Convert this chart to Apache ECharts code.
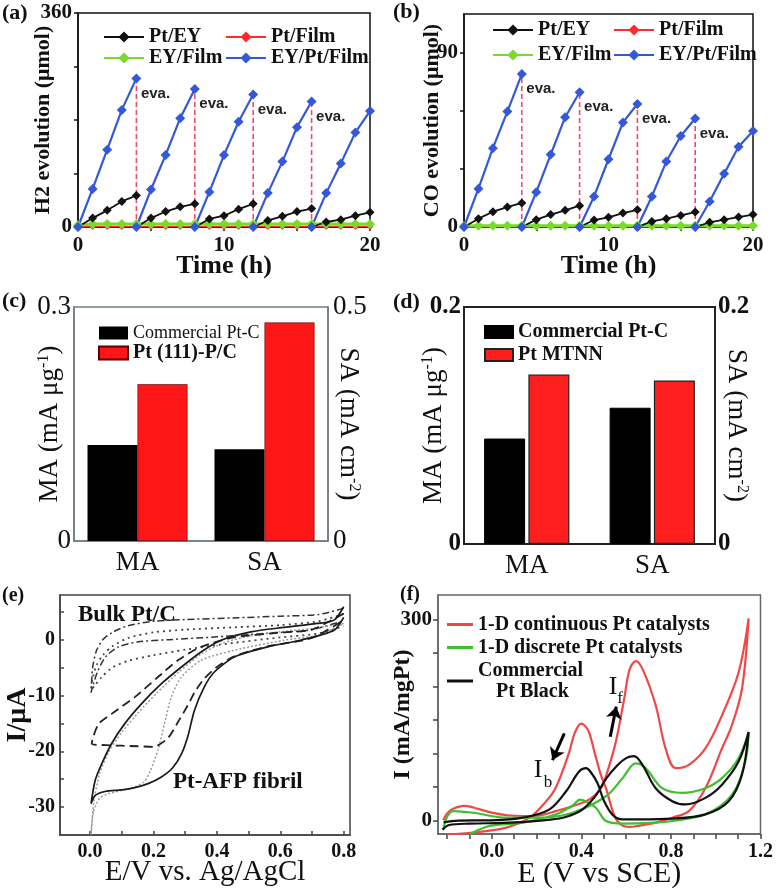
<!DOCTYPE html>
<html><head><meta charset="utf-8">
<script src="https://cdn.jsdelivr.net/npm/echarts@6/dist/echarts.min.js"></script>
<style>html,body{margin:0;padding:0;background:#fff}#c{width:776px;height:890px}</style>
</head><body><div id="c"></div><script>
const SERIF = "'Liberation Serif','Times New Roman',serif";
const SANS = "'Liberation Sans',Arial,sans-serif";

// ---------- (a)/(b) photocatalytic cycles ----------
const cycleStarts = [0, 4, 8, 12, 16];
const cycleHours = [0, 1, 2, 3, 4];
const hourly = [0,1,2,3,4,5,6,7,8,9,10,11,12,13,14,15,16,17,18,19,20];
const h2_EYPtFilm = [[0,64,130,197,250],[0,63,121,183,232],[0,59,121,177,223],[0,57,110,168,211],[0,57,107,159,195]];
const h2_PtEY     = [[0,15,28,43,53],[0,15,26,34,39],[0,13.5,19,30,39],[0,11,18,26,31],[0,8.4,12.3,19,24.7]];
const h2_PtFilm   = [0,1,1,1,1,1,1,1,1,1,1,1,1,1,1,1,1,1,1,1,1];
const h2_EYFilm   = [3,5,5,5,5,5,5,5,5,5,5,5,5,5,5,5,5,5,5,5,5];
const co_EYPtFilm = [[0,19.8,40.7,59.6,79],[0,18,37.4,56.7,69.6],[0,15.8,35,54,63.5],[0,15.8,33.8,47,56],[0,13.2,27.5,41.4,49.6]];
const co_PtEY     = [[0,4.3,7.9,10.3,12.4],[0,3.8,6.4,8.6,11],[0,3.6,5,7.2,8.9],[0,2.9,4.3,6,7.7],[0,2.4,3.8,5.1,6.4]];
const co_PtFilm   = [0,0.2,0.2,0.2,0.2,0.2,0.2,0.2,0.2,0.2,0.2,0.2,0.2,0.2,0.2,0.2,0.2,0.2,0.2,0.2,0.2];
const co_EYFilm   = [0.5,0.7,0.7,0.7,0.7,0.7,0.7,0.7,0.7,0.7,0.7,0.7,0.7,0.7,0.7,0.7,0.7,0.7,0.7,0.7,0.7];
const abTickLabelsX = [0, 10, 20];
const aTickLabelsY = [0, 360];
const bTickLabelsY = [0, 90];

// ---------- (c)/(d) bars ----------
const barCategories = ['MA', 'SA'];
const cCommercial = [0.123, 0.196];   // MA (left axis), SA (right axis)
const cPt111      = [0.201, 0.467];
const dCommercial = [0.089, 0.115];
const dMTNN       = [0.143, 0.138];

// ---------- (e) CV curves [E, I] ----------
const eFibrilSolid = [[0.8,5.9],[0.77,3.5],[0.716,2.9],[0.612,2.2],[0.507,1.4],[0.413,-0.1],[0.35,-2.2],[0.288,-4.9],[0.225,-7.9],[0.162,-11.5],[0.11,-15],[0.068,-18.6],[0.037,-22.2],[0.016,-25.2],[0.003,-29.4],[0.016,-27.9],[0.047,-27.2],[0.1,-26.9],[0.141,-26.5],[0.183,-25.8],[0.225,-24.6],[0.26,-23],[0.288,-20.5],[0.308,-17.4],[0.329,-12.7],[0.36,-8.5],[0.392,-5.8],[0.455,-3.1],[0.56,-1.3],[0.664,-0.1],[0.77,1.7],[0.8,4]];
const eFibrilDashed = [[0.8,4.7],[0.7,1.8],[0.612,1.3],[0.455,0.4],[0.35,-1.3],[0.277,-3.7],[0.214,-6.7],[0.141,-10.3],[0.068,-13.3],[0.026,-15.2],[0.005,-18.6],[0.05,-18.9],[0.1,-19],[0.15,-19.1],[0.2,-19.2],[0.246,-17.6],[0.28,-14.5],[0.308,-11.8],[0.33,-9.4],[0.36,-7],[0.4,-4.9],[0.455,-3],[0.56,-1.2],[0.7,0.3],[0.8,3.5]];
const eFibrilDotted = [[0.8,2.9],[0.7,2.0],[0.6,1.4],[0.5,0.6],[0.42,-0.6],[0.35,-2.6],[0.28,-5.8],[0.21,-9.6],[0.15,-13.2],[0.1,-16.6],[0.06,-20],[0.03,-24],[0.012,-29],[0.003,-35],[0.01,-31],[0.03,-28.4],[0.058,-27.6],[0.1,-27],[0.141,-26.4],[0.17,-25.5],[0.19,-23.5],[0.214,-19.8],[0.235,-15],[0.256,-10.3],[0.288,-6.7],[0.35,-3.7],[0.455,-1.9],[0.612,-0.1],[0.72,0.8],[0.8,2.9]];
const eBulkDashDot = [[0.8,5.6],[0.72,4.5],[0.6,4.2],[0.45,3.9],[0.3,3.6],[0.2,3.3],[0.12,2.5],[0.07,1.3],[0.04,0],[0.02,-2],[0.008,-5],[0.003,-9.5],[0.01,-8],[0.025,-5.5],[0.05,-3],[0.09,-1.3],[0.15,-0.4],[0.25,0],[0.4,0.5],[0.55,1.1],[0.7,1.8],[0.8,3.4]];
const eBulkDotted = [[0.8,4.6],[0.72,3.3],[0.6,2.6],[0.45,2.2],[0.3,1.8],[0.2,1.3],[0.12,0.3],[0.07,-1.2],[0.04,-2.8],[0.02,-4.6],[0.008,-7],[0.003,-9],[0.015,-8.2],[0.035,-6.8],[0.07,-5],[0.12,-3.8],[0.2,-2.8],[0.3,-1.8],[0.45,-0.6],[0.6,0.4],[0.72,1.1],[0.8,2.4]];
const eTickLabelsX = [0, 0.2, 0.4, 0.6, 0.8];
const eTickLabelsY = [-30, -20, -10, 0];

// ---------- (f) methanol oxidation CV [E, I] ----------
const fRedForward = [[-0.216,0],[-0.2,10],[-0.175,17],[-0.12,21.5],[-0.06,17],[0.0,11.5],[0.07,7.5],[0.139,6.4],[0.213,7.4],[0.287,13.8],[0.361,21.2],[0.44,32],[0.488,48],[0.517,73.5],[0.554,117.5],[0.591,181],[0.615,225],[0.643,238],[0.675,225],[0.732,172],[0.776,107.5],[0.821,78],[0.88,83],[0.954,107.5],[1.028,157],[1.102,221],[1.147,302]];
const fRedBackward = [[1.147,302],[1.117,196],[1.07,140],[1.028,107.5],[0.954,48],[0.88,13.8],[0.806,3.9],[0.732,-3.5],[0.66,-8],[0.613,-9.9],[0.584,-8],[0.55,5],[0.51,48],[0.487,68],[0.458,103],[0.43,135],[0.399,144.6],[0.37,130],[0.347,103],[0.31,68],[0.28,45],[0.243,28.6],[0.169,3.9],[0.065,-10.9],[-0.083,-18.3],[-0.2,-21]];
const fGreenForward = [[-0.215,-12],[-0.2,5],[-0.172,13.8],[-0.083,11.3],[0.065,3.9],[0.213,3.9],[0.361,11.3],[0.51,36],[0.584,63],[0.643,85],[0.687,78],[0.761,48],[0.85,41],[0.954,48],[1.028,63],[1.102,92.8],[1.147,132]];
const fGreenBackward = [[1.147,132],[1.132,87.8],[1.073,38.5],[0.954,8.9],[0.806,-1],[0.732,-3.5],[0.584,-4.9],[0.51,-1],[0.465,18.7],[0.421,28],[0.395,31],[0.36,22],[0.287,8.9],[0.139,-3.5],[-0.009,-8.4],[-0.098,-20.7]];
const fBlackForward = [[-0.22,-14],[-0.19,-7],[-0.1,-5],[0.05,-4],[0.15,-2.5],[0.25,0.5],[0.33,5],[0.4,15],[0.46,35],[0.51,62],[0.56,82],[0.6,93],[0.635,96],[0.673,83],[0.732,48],[0.806,28.6],[0.865,23.7],[0.954,33.5],[1.028,53.3],[1.102,87.8],[1.147,132]];
const fBlackBackward = [[1.147,132],[1.117,68],[1.058,28.6],[0.954,8.9],[0.806,2.5],[0.658,1.5],[0.584,1.5],[0.54,8],[0.5,30],[0.472,55.8],[0.44,73],[0.421,78],[0.39,73],[0.332,43.4],[0.258,16.3],[0.139,3.9],[0,0],[-0.15,-0.5],[-0.215,-3]];
const fArrows = [[[0.529,125],[0.556,170]], [[0.324,130],[0.271,90]]];
const fTickLabelsX = [0, 0.4, 0.8, 1.2];
const fTickLabelsY = [0, 300];

// ---------- helpers ----------
function cyclesToPoints(cycles) {
  const pts = [];
  cycles.forEach((c, i) => {
    if (i > 0) pts.push([cycleStarts[i], null]);
    c.forEach((v, j) => pts.push([cycleStarts[i] + cycleHours[j], v]));
  });
  return pts;
}
function hourlyPoints(vals) { return vals.map((v, i) => [hourly[i], v]); }
function evaPoints(cycles) {
  const pts = [];
  for (let i = 0; i < cycles.length - 1; i++) {
    const t = cycleStarts[i] + cycleHours[cycleHours.length - 1];
    const top = cycles[i][cycles[i].length - 1];
    pts.push([t, 0]);
    pts.push({ value: [t, top], label: { show: true } });
    pts.push([t, null]);
  }
  return pts;
}
function range(a, b, s) { const r = []; for (let v = a; v <= b + 1e-9; v += s) r.push(+v.toFixed(4)); return r; }

const fontB = (size, fam) => ({ fontFamily: fam || SERIF, fontWeight: 'bold', fontSize: size, color: '#111' });
const fontN = (size, fam) => ({ fontFamily: fam || SERIF, fontWeight: 'normal', fontSize: size, color: '#111' });

const colors = { black: '#111111', red: '#ff2b2b', green: '#7ada2c', blue: '#3458d8' };

function abSeries(gi, d) {
  const common = { type: 'line', xAxisIndex: gi, yAxisIndex: gi, symbol: 'diamond', lineStyle: { width: 2 } };
  return [
    { type: 'line', xAxisIndex: gi, yAxisIndex: gi, symbol: 'circle', symbolSize: 1, silent: true, data: evaPoints(d.eyPtFilm),
      itemStyle: { color: '#f04a68' },
      lineStyle: { color: '#f04a68', width: 1.6, type: [5, 3] }, z: 1,
      label: { show: false, formatter: 'eva.', position: 'right', distance: 4, offset: [0, 15], fontFamily: SANS, fontWeight: 'bold', fontSize: 15, color: '#222' } },
    Object.assign({}, common, { name: 'Pt/Film', data: hourlyPoints(d.ptFilm), color: colors.red, symbolSize: 7, lineStyle: { width: 1.5, color: colors.red } }),
    Object.assign({}, common, { name: 'EY/Film', data: hourlyPoints(d.eyFilm), color: colors.green, symbolSize: 10, lineStyle: { width: 3, color: colors.green } }),
    Object.assign({}, common, { name: 'Pt/EY', data: cyclesToPoints(d.ptEY), color: colors.black, symbolSize: 9, lineStyle: { width: 1.8, color: colors.black } }),
    Object.assign({}, common, { name: 'EY/Pt/Film', data: cyclesToPoints(d.eyPtFilm), color: colors.blue, symbolSize: 10, lineStyle: { width: 2.2, color: colors.blue } })
  ];
}

const axisLine = (c, w) => ({ show: true, onZero: false, lineStyle: { color: c, width: w || 1.5 } });
const supRich = { sup: { fontFamily: SERIF, fontSize: 16, verticalAlign: 'top', color: '#111' } };

const option = {
  backgroundColor: '#fff',
  animation: false,
  grid: [
    { left: 78, top: 13, width: 292, height: 214, show: true, borderColor: '#111', borderWidth: 1.5 },
    { left: 464, top: 14, width: 289, height: 213, show: true, borderColor: '#111', borderWidth: 1.5 },
    { left: 74, top: 307, width: 254, height: 234, show: true, borderColor: '#6f7d7d', borderWidth: 1.5 },
    { left: 464, top: 307, width: 251, height: 237, show: true, borderColor: '#222', borderWidth: 2 },
    { left: 60, top: 595, width: 290, height: 240, show: true, borderColor: '#444', borderWidth: 1.5 },
    { left: 438, top: 595, width: 324, height: 241, show: true, borderColor: '#666', borderWidth: 1.5 }
  ],
  xAxis: [
    { gridIndex: 0, type: 'value', min: 0, max: 20, axisLine: axisLine('#111'), splitLine: { show: false },
      axisTick: { customValues: [0,5,10,15,20], length: 4, lineStyle: { color: '#111', width: 1.5 } },
      axisLabel: { customValues: abTickLabelsX, margin: 8, ...fontB(21) },
      name: 'Time (h)', nameLocation: 'middle', nameGap: 26, nameMoveOverlap: false, nameTextStyle: fontB(26) },
    { gridIndex: 1, type: 'value', min: 0, max: 20, axisLine: axisLine('#111'), splitLine: { show: false },
      axisTick: { customValues: [0,5,10,15,20], length: 4, lineStyle: { color: '#111', width: 1.5 } },
      axisLabel: { customValues: abTickLabelsX, margin: 8, ...fontB(21) },
      name: 'Time (h)', nameLocation: 'middle', nameGap: 26, nameMoveOverlap: false, nameTextStyle: fontB(26) },
    { gridIndex: 2, type: 'category', data: barCategories, axisLine: axisLine('#6f7d7d'), axisTick: { show: false },
      axisLabel: { margin: 8, ...fontN(27) } },
    { gridIndex: 2, type: 'category', data: barCategories, show: false },
    { gridIndex: 3, type: 'category', data: barCategories, axisLine: axisLine('#222', 2), axisTick: { show: false },
      axisLabel: { margin: 8, ...fontN(27) } },
    { gridIndex: 3, type: 'category', data: barCategories, show: false },
    { gridIndex: 4, type: 'value', min: -0.095, max: 0.82, axisLine: axisLine('#444'), splitLine: { show: false },
      axisTick: { inside: true, customValues: range(0, 0.8, 0.1), length: 4, lineStyle: { color: '#444', width: 1.5 } },
      axisLabel: { customValues: eTickLabelsX, margin: 7, formatter: v => v.toFixed(1), ...fontB(20) },
      name: 'E/V vs. Ag/AgCl', nameLocation: 'middle', nameGap: 23, nameMoveOverlap: false, nameTextStyle: fontN(29) },
    { gridIndex: 5, type: 'value', min: -0.24, max: 1.2, axisLine: axisLine('#666'), splitLine: { show: false },
      axisTick: { customValues: range(-0.2, 1.2, 0.1), length: 5, lineStyle: { color: '#444', width: 1.5 } },
      axisLabel: { customValues: fTickLabelsX, margin: 8, formatter: v => v.toFixed(1), ...fontB(20) },
      name: 'E (V vs SCE)', nameLocation: 'middle', nameGap: 25, nameMoveOverlap: false, nameTextStyle: fontN(30) }
  ],
  yAxis: [
    { gridIndex: 0, type: 'value', min: 0, max: 360, axisLine: axisLine('#111'), splitLine: { show: false },
      axisTick: { customValues: [0,90,180,270,360], length: 4, lineStyle: { color: '#111', width: 1.5 } },
      axisLabel: { customValues: aTickLabelsY, margin: 6, ...fontB(21) },
      name: 'H2 evolution (μmol)', nameLocation: 'middle', nameGap: 24, nameMoveOverlap: false, nameTextStyle: fontB(22) },
    { gridIndex: 1, type: 'value', min: 0, max: 110, axisLine: axisLine('#111'), splitLine: { show: false },
      axisTick: { customValues: [0,30,60,90], length: 4, lineStyle: { color: '#111', width: 1.5 } },
      axisLabel: { customValues: bTickLabelsY, margin: 6, ...fontB(21) },
      name: 'CO evolution (μmol)', nameLocation: 'middle', nameGap: 21, nameMoveOverlap: false, nameTextStyle: fontB(22) },
    { gridIndex: 2, type: 'value', position: 'left', min: 0, max: 0.3, axisLine: axisLine('#6f7d7d'), splitLine: { show: false },
      axisTick: { inside: true, customValues: range(0, 0.3, 0.05), length: 4, lineStyle: { color: '#555' } },
      axisLabel: { customValues: [0, 0.3], margin: 3, ...fontN(27) },
      name: 'MA (mA μg{sup|-1})', nameLocation: 'middle', nameGap: 11, nameMoveOverlap: false,
      nameTextStyle: Object.assign(fontN(27), { rich: supRich }) },
    { gridIndex: 2, type: 'value', position: 'right', min: 0, max: 0.5, axisLine: axisLine('#6f7d7d'), splitLine: { show: false },
      axisTick: { inside: true, customValues: range(0, 0.5, 0.05), length: 4, lineStyle: { color: '#555' } },
      axisLabel: { customValues: [0, 0.5], margin: 5, ...fontN(27) },
      name: 'SA (mA cm{sup|-2})', nameLocation: 'middle', nameGap: 7, nameRotate: -90, nameMoveOverlap: false,
      nameTextStyle: Object.assign(fontN(27), { rich: supRich }) },
    { gridIndex: 3, type: 'value', position: 'left', min: 0, max: 0.2, axisLine: axisLine('#222', 2), splitLine: { show: false },
      axisTick: { inside: true, customValues: range(0, 0.2, 0.025), length: 4, lineStyle: { color: '#333' } },
      axisLabel: { customValues: [0, 0.2], margin: 3, ...fontB(25) },
      name: 'MA (mA μg{sup|-1})', nameLocation: 'middle', nameGap: 17, nameMoveOverlap: false,
      nameTextStyle: Object.assign(fontN(27), { rich: supRich }) },
    { gridIndex: 3, type: 'value', position: 'right', min: 0, max: 0.2, axisLine: axisLine('#222', 2), splitLine: { show: false },
      axisTick: { inside: true, customValues: range(0, 0.2, 0.025), length: 4, lineStyle: { color: '#333' } },
      axisLabel: { customValues: [0, 0.2], margin: 3, ...fontB(25) },
      name: 'SA (mA cm{sup|-2})', nameLocation: 'middle', nameGap: 8, nameRotate: -90, nameMoveOverlap: false,
      nameTextStyle: Object.assign(fontN(27), { rich: supRich }) },
    { gridIndex: 4, type: 'value', min: -35, max: 8, axisLine: axisLine('#444'), splitLine: { show: false },
      axisTick: { inside: true, customValues: range(-30, 5, 5), length: 4, lineStyle: { color: '#444', width: 1.5 } },
      axisLabel: { customValues: eTickLabelsY, margin: 5, ...fontB(20) },
      name: 'I/μA', nameLocation: 'middle', nameGap: 28, nameMoveOverlap: false, nameTextStyle: fontB(28) },
    { gridIndex: 5, type: 'value', min: -20.5, max: 337, axisLine: axisLine('#666'), splitLine: { show: false },
      axisTick: { customValues: range(0, 300, 50), length: 5, lineStyle: { color: '#444', width: 1.5 } },
      axisLabel: { customValues: fTickLabelsY, margin: 6, ...fontB(21) },
      name: 'I (mA/mgPt)', nameLocation: 'middle', nameGap: 23, nameMoveOverlap: false, nameTextStyle: fontB(24) }
  ],
  legend: [
    { left: 98, top: 22, orient: 'vertical', itemWidth: 40, itemHeight: 14, itemGap: 1, data: ['Pt/EY', 'EY/Film'], textStyle: fontB(20), selectedMode: false },
    { left: 220, top: 22, orient: 'vertical', itemWidth: 40, itemHeight: 14, itemGap: 1, data: ['Pt/Film', 'EY/Pt/Film'], textStyle: fontB(20), selectedMode: false },
    { left: 487, top: 15, orient: 'vertical', itemWidth: 40, itemHeight: 14, itemGap: 5, data: ['Pt/EY', 'EY/Film'], textStyle: fontB(20), selectedMode: false },
    { left: 608, top: 15, orient: 'vertical', itemWidth: 40, itemHeight: 14, itemGap: 5, data: ['Pt/Film', 'EY/Pt/Film'], textStyle: fontB(20), selectedMode: false },
    { left: 93, top: 319, orient: 'vertical', itemWidth: 29, itemHeight: 13, itemGap: 1, icon: 'rect', selectedMode: false,
      data: [{ name: 'Commercial Pt-C', textStyle: fontN(18) }, { name: 'Pt (111)-P/C', textStyle: fontB(20) }] },
    { left: 479, top: 317, orient: 'vertical', itemWidth: 28, itemHeight: 12, itemGap: 3, icon: 'rect', selectedMode: false,
      data: [{ name: 'Commercial Pt-C ', textStyle: fontB(20) }, { name: 'Pt MTNN', textStyle: fontB(20) }] },
    { left: 442, top: 609, orient: 'vertical', itemWidth: 26, itemHeight: 3, itemGap: 2, icon: 'rect', selectedMode: false,
      data: ['1-D continuous Pt catalysts', '1-D discrete Pt catalysts', 'Commercial Pt Black'],
      formatter: n => n === 'Commercial Pt Black' ? '{a|Commercial}\n{b|Pt Black}' : n,
      textStyle: Object.assign(fontB(20), { lineHeight: 21, rich: { a: fontB(20), b: Object.assign(fontB(20), { padding: [0,0,0,18] }) } }) }
  ],
  series: [
    ...abSeries(0, { ptFilm: h2_PtFilm, eyFilm: h2_EYFilm, ptEY: h2_PtEY, eyPtFilm: h2_EYPtFilm }),
    ...abSeries(1, { ptFilm: co_PtFilm, eyFilm: co_EYFilm, ptEY: co_PtEY, eyPtFilm: co_EYPtFilm }),
    // (c)
    { type: 'bar', name: 'Commercial Pt-C', xAxisIndex: 2, yAxisIndex: 2, data: [cCommercial[0], '-'], barWidth: 50, barGap: '0%', itemStyle: { color: '#000' } },
    { type: 'bar', name: 'Pt (111)-P/C', xAxisIndex: 2, yAxisIndex: 2, data: [cPt111[0], '-'], barWidth: 50, barGap: '0%', itemStyle: { color: '#ff1616', borderColor: '#5a0000', borderWidth: 0.6 } },
    { type: 'bar', name: 'Commercial Pt-C', xAxisIndex: 3, yAxisIndex: 3, data: ['-', cCommercial[1]], barWidth: 50, barGap: '0%', itemStyle: { color: '#000' } },
    { type: 'bar', name: 'Pt (111)-P/C', xAxisIndex: 3, yAxisIndex: 3, data: ['-', cPt111[1]], barWidth: 50, barGap: '0%', itemStyle: { color: '#ff1616', borderColor: '#5a0000', borderWidth: 0.6 } },
    // (d)
    { type: 'bar', name: 'Commercial Pt-C ', xAxisIndex: 4, yAxisIndex: 4, data: [dCommercial[0], '-'], barWidth: 41, barGap: '8%', itemStyle: { color: '#000', borderColor: '#000', borderWidth: 1 } },
    { type: 'bar', name: 'Pt MTNN', xAxisIndex: 4, yAxisIndex: 4, data: [dMTNN[0], '-'], barWidth: 41, barGap: '8%', itemStyle: { color: '#ff1f1f', borderColor: '#222', borderWidth: 1.2 } },
    { type: 'bar', name: 'Commercial Pt-C ', xAxisIndex: 5, yAxisIndex: 5, data: ['-', dCommercial[1]], barWidth: 41, barGap: '8%', itemStyle: { color: '#000', borderColor: '#000', borderWidth: 1 } },
    { type: 'bar', name: 'Pt MTNN', xAxisIndex: 5, yAxisIndex: 5, data: ['-', dMTNN[1]], barWidth: 41, barGap: '8%', itemStyle: { color: '#ff1f1f', borderColor: '#222', borderWidth: 1.2 } },
    // (e)
    { type: 'line', xAxisIndex: 6, yAxisIndex: 6, symbol: 'none', smooth: 0.25, data: eBulkDashDot, lineStyle: { color: '#333', width: 1.5, type: [7, 3, 2, 3] } },
    { type: 'line', xAxisIndex: 6, yAxisIndex: 6, symbol: 'none', smooth: 0.25, data: eBulkDotted, lineStyle: { color: '#444', width: 1.8, type: [2, 4] } },
    { type: 'line', xAxisIndex: 6, yAxisIndex: 6, symbol: 'none', smooth: 0.25, data: eFibrilDotted, lineStyle: { color: '#9a9a9a', width: 1.5, type: [2, 2] } },
    { type: 'line', xAxisIndex: 6, yAxisIndex: 6, symbol: 'none', smooth: 0.25, data: eFibrilDashed, lineStyle: { color: '#222', width: 1.8, type: [9, 5] } },
    { type: 'line', xAxisIndex: 6, yAxisIndex: 6, symbol: 'none', smooth: 0.25, data: eFibrilSolid, lineStyle: { color: '#1a1a1a', width: 1.7 } },
    // (f)
    { type: 'line', name: '1-D continuous Pt catalysts', xAxisIndex: 7, yAxisIndex: 7, symbol: 'none', smooth: 0.35,
      data: fRedForward.concat(fRedBackward.slice(1)), color: '#f04848', lineStyle: { width: 2.2, color: '#f04848' },
      markLine: { silent: true, symbol: ['none', 'arrow'], symbolSize: 12, label: { show: false },
        lineStyle: { color: '#000', width: 3, type: 'solid' },
        data: fArrows.map(a => [{ coord: a[0] }, { coord: a[1] }]) } },
    { type: 'line', name: '1-D discrete Pt catalysts', xAxisIndex: 7, yAxisIndex: 7, symbol: 'none', smooth: 0.35,
      data: fGreenForward.concat(fGreenBackward.slice(1)), color: '#3fbf2f', lineStyle: { width: 2.2, color: '#3fbf2f' } },
    { type: 'line', name: 'Commercial Pt Black', xAxisIndex: 7, yAxisIndex: 7, symbol: 'none', smooth: 0.35,
      data: fBlackForward.concat(fBlackBackward.slice(1)), color: '#111', lineStyle: { width: 2.2, color: '#111' } }
  ],
  graphic: [
    { type: 'text', x: 2, y: 13, style: { text: '(a)', font: "bold 22px " + SERIF, fill: '#111', textVerticalAlign: 'middle' } },
    { type: 'text', x: 393, y: 12, style: { text: '(b)', font: "bold 22px " + SERIF, fill: '#111', textVerticalAlign: 'middle' } },
    { type: 'text', x: 2, y: 301, style: { text: '(c)', font: "bold 22px " + SERIF, fill: '#111', textVerticalAlign: 'middle' } },
    { type: 'text', x: 393, y: 302, style: { text: '(d)', font: "bold 22px " + SERIF, fill: '#111', textVerticalAlign: 'middle' } },
    { type: 'text', x: 2, y: 596, style: { text: '(e)', font: "bold 20px " + SERIF, fill: '#111', textVerticalAlign: 'middle' } },
    { type: 'text', x: 400, y: 595, style: { text: '(f)', font: "bold 20px " + SERIF, fill: '#111', textVerticalAlign: 'middle' } },
    { type: 'text', x: 78, y: 615, style: { text: 'Bulk Pt/C', font: "bold 23px " + SERIF, fill: '#111', textVerticalAlign: 'middle' } },
    { type: 'text', x: 173, y: 782, style: { text: 'Pt-AFP fibril', font: "bold 23px " + SERIF, fill: '#111', textVerticalAlign: 'middle' } },
    { type: 'text', x: 613, y: 687, style: { text: 'I', font: "26px " + SERIF, fill: '#111', textAlign: 'center', textVerticalAlign: 'middle' } },
    { type: 'text', x: 620, y: 699, style: { text: 'f', font: "17px " + SERIF, fill: '#111', textAlign: 'center', textVerticalAlign: 'middle' } },
    { type: 'text', x: 538, y: 770, style: { text: 'I', font: "26px " + SERIF, fill: '#111', textAlign: 'center', textVerticalAlign: 'middle' } },
    { type: 'text', x: 548, y: 783, style: { text: 'b', font: "17px " + SERIF, fill: '#111', textAlign: 'center', textVerticalAlign: 'middle' } }
  ]
};
const chart = echarts.init(document.getElementById('c'), null, { renderer: 'canvas' });
chart.setOption(option);
</script></body></html>
